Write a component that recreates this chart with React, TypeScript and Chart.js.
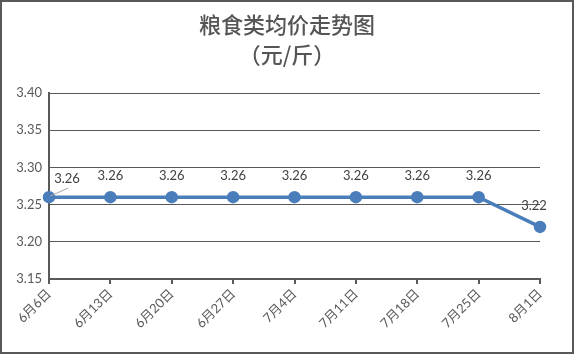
import React, { useEffect, useRef } from "react";
import { Chart, registerables } from "chart.js";

Chart.register(...registerables);

const titleLines = ["粮食类均价走势图", "（元/斤）"];
const categories = ["6月6日", "6月13日", "6月20日", "6月27日", "7月4日", "7月11日", "7月18日", "7月25日", "8月1日"];
const prices = [3.26, 3.26, 3.26, 3.26, 3.26, 3.26, 3.26, 3.26, 3.22];
const yMin = 3.15;
const yMax = 3.4;
const yStep = 0.05;

const TEXT = "#595959";
const LINE = "#4a7ebb";
const FONT = "Lato, 'Noto Sans CJK SC', sans-serif";

const titlePlugin = {
  id: "twoLineTitle",
  afterDraw(chart: any) {
    const ctx = chart.ctx;
    ctx.save();
    ctx.fillStyle = "#555555";
    ctx.font = "500 22px 'Noto Sans CJK SC', sans-serif";
    ctx.textAlign = "center";
    ctx.textBaseline = "middle";
    const cx = chart.width / 2;
    ctx.fillText(titleLines[0], cx, 23);
    ctx.fillText(titleLines[1], cx, 53);
    ctx.restore();
  },
};

const labelPlugin = {
  id: "pointLabels",
  afterDatasetsDraw(chart: any) {
    const ctx = chart.ctx;
    const meta = chart.getDatasetMeta(0);
    const data = chart.data.datasets[0].data as number[];
    ctx.save();
    ctx.font = "13px " + FONT;
    ctx.fillStyle = "#404040";
    ctx.textAlign = "center";
    ctx.textBaseline = "middle";
    meta.data.forEach((pt: any, i: number) => {
      let dx = 0;
      let dy = -21;
      if (i === 0) {
        dx = 18;
        dy = -18;
        ctx.strokeStyle = "#a6a6a6";
        ctx.lineWidth = 1;
        ctx.beginPath();
        ctx.moveTo(pt.x + 1, pt.y - 1);
        ctx.lineTo(pt.x + 19, pt.y - 9);
        ctx.stroke();
      } else if (i === data.length - 1) {
        dx = -6;
        dy = -21;
      }
      ctx.fillText(data[i].toFixed(2), pt.x + dx, pt.y + dy);
    });
    ctx.restore();
  },
};

export default function App() {
  const ref = useRef<HTMLCanvasElement>(null);
  useEffect(() => {
    document.body.style.margin = "0";
    const chart = new Chart(ref.current as HTMLCanvasElement, {
      type: "line",
      data: {
        labels: categories,
        datasets: [
          {
            data: prices,
            borderColor: LINE,
            backgroundColor: LINE,
            borderWidth: 3.5,
            pointRadius: 4.5,
            pointBackgroundColor: LINE,
            pointBorderColor: LINE,
            tension: 0,
          },
        ],
      },
      options: {
        responsive: false,
        animation: false,
        layout: { padding: { top: 91, right: 32, left: 0, bottom: 0 } },
        plugins: { legend: { display: false }, tooltip: { enabled: false }, title: { display: false } },
        scales: {
          x: {
            offset: false,
            grid: { drawOnChartArea: false, drawTicks: true, tickLength: 5, color: TEXT, lineWidth: 2 },
            border: { display: true, color: TEXT, width: 2 },
            ticks: {
              color: TEXT,
              font: { size: 13, family: FONT },
              minRotation: 45,
              maxRotation: 45,
              padding: 2,
              autoSkip: false,
            },
            afterFit(s: any) {
              s.height = 73;
              s.paddingLeft = 0;
              s.paddingRight = 0;
            },
          },
          y: {
            min: yMin,
            max: yMax,
            grid: { drawTicks: false, color: TEXT, lineWidth: 1 },
            border: { display: true, color: TEXT, width: 2 },
            ticks: {
              stepSize: yStep,
              color: TEXT,
              font: { size: 13, family: FONT },
              padding: 7,
              callback: (v: any) => Number(v).toFixed(2),
            },
            afterFit(s: any) {
              s.width = 47;
              s.paddingTop = 0;
              s.paddingBottom = 0;
            },
          },
        },
      },
      plugins: [titlePlugin, labelPlugin],
    });
    return () => chart.destroy();
  }, []);
  return (
    <div style={{ width: 574, height: 354, boxSizing: "border-box", border: "2px solid #595959", background: "#fff" }}>
      <canvas ref={ref} width={570} height={350} style={{ display: "block" }} />
    </div>
  );
}
